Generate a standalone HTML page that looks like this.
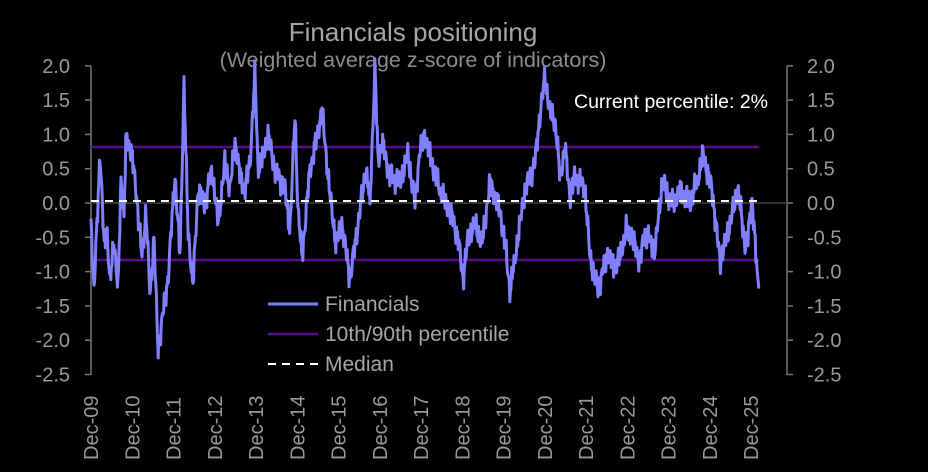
<!DOCTYPE html>
<html><head><meta charset="utf-8"><style>
html,body{margin:0;padding:0;background:#000;}
svg{display:block;font-family:"Liberation Sans",sans-serif;}
</style></head><body>
<svg id="s" width="928" height="472" viewBox="0 0 928 472">
<rect width="928" height="472" fill="#000"/>
<text x="413" y="41" text-anchor="middle" font-size="26" fill="#a6a6a6">Financials positioning</text>
<text x="413" y="67" text-anchor="middle" font-size="21.5" fill="#8c8c8c">(Weighted average z-score of indicators)</text>
<g id="axes" stroke="#777" stroke-width="1.5" fill="none"></g>
<g id="lbl" font-size="20" fill="#999"></g>
<line x1="91" y1="203" x2="787" y2="203" stroke="#333" stroke-width="2"/>
<line x1="91" y1="147" x2="759" y2="147" stroke="#5a0a8c" stroke-width="2.5"/>
<line x1="91" y1="260" x2="759" y2="260" stroke="#5a0a8c" stroke-width="2.5"/>
<path id="ser" fill="none" stroke="#7f7fff" stroke-width="3" stroke-linejoin="round"/>
<line x1="91" y1="201" x2="759" y2="201" stroke="#fff" stroke-width="2" stroke-dasharray="8,6"/>
<text x="574" y="108" font-size="19.5" fill="#fff">Current percentile: 2%</text>
<line x1="268" y1="304" x2="318" y2="304" stroke="#7f7fff" stroke-width="3"/>
<text x="325" y="311" font-size="21" fill="#a6a6a6">Financials</text>
<line x1="268" y1="334" x2="318" y2="334" stroke="#5a0a8c" stroke-width="2.5"/>
<text x="325" y="341" font-size="21" fill="#a6a6a6">10th/90th percentile</text>
<line x1="268" y1="364" x2="318" y2="364" stroke="#fff" stroke-width="2" stroke-dasharray="8,6"/>
<text x="325" y="371" font-size="21" fill="#a6a6a6">Median</text>
</svg>
<script>
var NS="http://www.w3.org/2000/svg";
function el(p,t,a,txt){var e=document.createElementNS(NS,t);for(var k in a)e.setAttribute(k,a[k]);if(txt!=null)e.textContent=txt;p.appendChild(e);return e;}
var ax=document.getElementById('axes'),lb=document.getElementById('lbl');
function Y(v){return 203-v*68.6;}
el(ax,'line',{x1:91,y1:66,x2:91,y2:375});
el(ax,'line',{x1:787,y1:66,x2:787,y2:375});
for(var i=0;i<10;i++){var v=2-i*0.5,y=Y(v);
el(ax,'line',{x1:91,y1:y,x2:85,y2:y});el(ax,'line',{x1:787,y1:y,x2:793,y2:y});
var s=(v<0?'-':'')+Math.abs(v).toFixed(1);
el(lb,'text',{x:70,y:y+7,'text-anchor':'end'},s);
el(lb,'text',{x:807,y:y+7},s);}
for(var j=0;j<=16;j++){var x=91+j*41.25;var n=j+9;var yy=(n<10?'0':'')+n;
el(lb,'text',{transform:'translate('+(x+7)+',460) rotate(-90)'},'Dec-'+yy);}
var w=[[91,-0.2],[94,-1.3],[97,-0.3],[100,0.75],[104,-0.6],[107,-0.4],[110,-1.2],[114,-0.5],[118,-1.3],[121,0.35],[124,-0.2],[126,0.95],[131,0.8],[136,0.2],[142,-0.8],[146,-0.1],[150,-1.35],[154,-0.5],[158,-2.15],[163,-1.6],[168,-1.1],[175,0.4],[180,-0.8],[184,1.75],[188,-0.4],[193,-1.2],[198,0.2],[205,0.0],[212,0.5],[218,-0.3],[225,0.6],[230,0.2],[235,0.9],[240,0.4],[245,0.2],[250,0.6],[255,1.9],[258,0.5],[262,0.6],[268,1.0],[275,0.5],[285,0.2],[290,-0.4],[295,1.3],[298,-0.1],[302,-0.8],[310,0.5],[316,0.9],[322,1.35],[330,0.1],[336,-0.6],[342,-0.3],[350,-1.1],[358,-0.3],[366,0.5],[370,0.0],[375,2.0],[378,0.6],[382,0.9],[390,0.4],[400,0.3],[408,0.7],[415,0.0],[420,0.8],[425,1.0],[435,0.4],[445,0.0],[452,-0.2],[458,-0.5],[463,-1.1],[468,-0.5],[475,-0.3],[482,-0.6],[490,0.3],[500,-0.1],[506,-0.7],[510,-1.3],[518,-0.5],[525,0.2],[535,0.6],[540,1.3],[545,1.85],[550,1.3],[555,1.2],[560,0.4],[565,0.8],[570,0.1],[575,0.4],[585,0.2],[590,-0.8],[598,-1.25],[608,-0.7],[614,-0.95],[620,-0.8],[626,-0.4],[632,-0.5],[640,-0.85],[645,-0.4],[655,-0.7],[662,0.3],[672,0.0],[680,0.2],[690,0.0],[697,0.3],[703,0.7],[712,0.2],[720,-0.85],[730,-0.3],[738,0.2],[745,-0.6],[748,-0.5],[752,0.1],[756,-0.8],[759,-1.28]];
var d='',k=0;
for(var x=91;x<=759;x+=0.6){while(k<w.length-2&&w[k+1][0]<x)k++;
var a=w[k],b=w[k+1],t=Math.max(0,Math.min(1,(x-a[0])/(b[0]-a[0])));
var v=a[1]+(b[1]-a[1])*t;
if(x<757)v+=0.1*Math.sin(x*2.3)+0.08*Math.sin(x*5.7+1)+0.05*Math.sin(x*11.3);
d+=(d?'L':'M')+x.toFixed(1)+','+Y(v).toFixed(1);}
document.getElementById('ser').setAttribute('d',d);
</script>
</body></html>
